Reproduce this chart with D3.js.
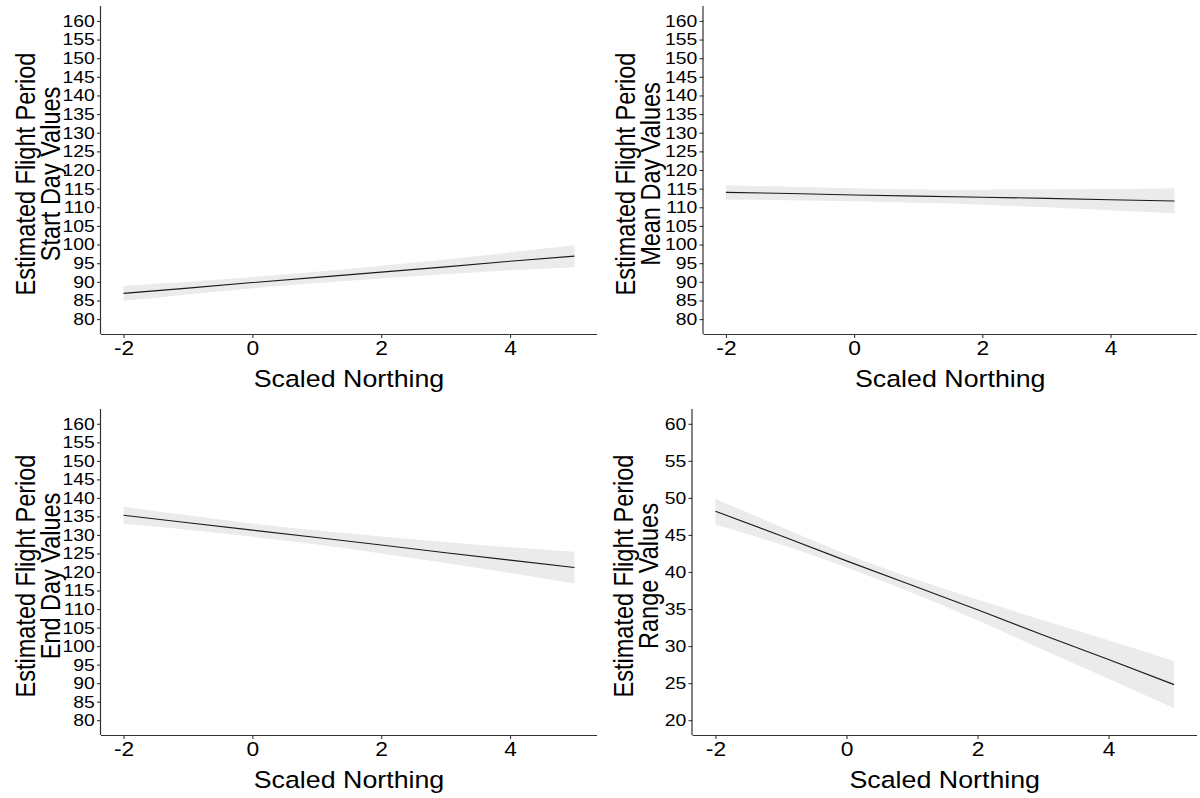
<!DOCTYPE html>
<html>
<head>
<meta charset="utf-8">
<script src="https://cdn.jsdelivr.net/npm/d3@7"></script>
<style>
  html, body { margin: 0; padding: 0; background: #fff; }
  svg { display: block; font-family: "Liberation Sans", Arial, sans-serif; }
</style>
</head>
<body>
<svg id="chart" width="1200" height="798"></svg>
<script>
// Scaled northing positions where the fitted values were evaluated
const northing = [-2, -1, 0, 1, 2, 3, 4, 5];

// Flight period start day: fitted line and confidence band
const startFit   = [86.9, 88.3, 89.8, 91.2, 92.6, 94.0, 95.5, 96.9];
const startLower = [84.9, 86.6, 88.3, 89.7, 90.9, 92.0, 93.1, 93.9];
const startUpper = [88.9, 90.0, 91.3, 92.7, 94.3, 96.0, 97.9, 99.8];

// Flight period mean day
const meanFit   = [114.0, 113.7, 113.3, 113.0, 112.7, 112.4, 112.0, 111.7];
const meanLower = [112.0, 111.9, 111.6, 111.2, 110.7, 110.0, 109.2, 108.4];
const meanUpper = [115.9, 115.5, 115.1, 114.8, 114.7, 114.8, 114.9, 115.1];

// Flight period end day
const endFit   = [135.3, 133.3, 131.3, 129.3, 127.3, 125.2, 123.2, 121.2];
const endLower = [133.0, 131.4, 129.5, 127.4, 125.0, 122.4, 119.7, 116.9];
const endUpper = [137.6, 135.3, 133.1, 131.2, 129.6, 128.1, 126.7, 125.5];

// Flight period range (days)
const rangeFit   = [48.2, 44.9, 41.5, 38.2, 34.9, 31.5, 28.2, 24.8];
const rangeLower = [46.4, 43.7, 40.6, 37.2, 33.5, 29.5, 25.6, 21.6];
const rangeUpper = [49.9, 46.1, 42.4, 39.2, 36.3, 33.5, 30.8, 28.0];

// Axis ticks and labels
const northingTicks = [-2, 0, 2, 4];
const dayTicks = d3.range(80, 161, 5);
const rangeTicks = d3.range(20, 61, 5);
const xTitle = "Scaled Northing";
const yTitleTop = "Estimated Flight Period";
const yTitles = ["Start Day Values", "Mean Day Values", "End Day Values", "Range Values"];

// text is drawn slightly wide, as in the exported figure
const SX = 1.14;

const svg = d3.select("#chart");

const panels = [
  { fit: startFit, lo: startLower, hi: startUpper, ticks: dayTicks, lim: [80, 160],
    title: yTitles[0], left: 101, right: 597, top: 6, bottom: 334, t1: 25, t2: 50 },
  { fit: meanFit, lo: meanLower, hi: meanUpper, ticks: dayTicks, lim: [80, 160],
    title: yTitles[1], left: 703.5, right: 1197, top: 6, bottom: 334, t1: 625, t2: 650 },
  { fit: endFit, lo: endLower, hi: endUpper, ticks: dayTicks, lim: [80, 160],
    title: yTitles[2], left: 101, right: 597, top: 409, bottom: 735, t1: 25, t2: 50 },
  { fit: rangeFit, lo: rangeLower, hi: rangeUpper, ticks: rangeTicks, lim: [20, 60],
    title: yTitles[3], left: 692.5, right: 1197, top: 409, bottom: 735, t1: 623, t2: 648 }
];

panels.forEach(p => {
  // 5% expansion on both scales
  const xPad = (5 - (-2)) * 0.05;
  const yPad = (p.lim[1] - p.lim[0]) * 0.05;
  const x = d3.scaleLinear().domain([-2 - xPad, 5 + xPad]).range([p.left, p.right]);
  const y = d3.scaleLinear().domain([p.lim[0] - yPad, p.lim[1] + yPad]).range([p.bottom, p.top]);

  const g = svg.append("g");
  const pts = northing.map((n, i) => ({ n, fit: p.fit[i], lo: p.lo[i], hi: p.hi[i] }));

  // confidence ribbon
  g.append("path")
    .datum(pts)
    .attr("fill", "#ebebeb")
    .attr("d", d3.area().curve(d3.curveMonotoneX)
      .x(d => x(d.n)).y0(d => y(d.lo)).y1(d => y(d.hi)));

  // fitted line
  g.append("path")
    .datum(pts)
    .attr("fill", "none")
    .attr("stroke", "#1a1a1a")
    .attr("stroke-width", 1.1)
    .attr("d", d3.line().x(d => x(d.n)).y(d => y(d.fit)));

  // x axis
  const xAxis = g.append("g")
    .attr("transform", `translate(0,${p.bottom})`)
    .call(d3.axisBottom(x).tickValues(northingTicks).tickFormat(d3.format("d"))
      .tickSizeInner(4).tickSizeOuter(0).tickPadding(3));
  xAxis.select(".domain").attr("stroke", "#333").attr("stroke-width", 1.2)
    .attr("d", `M${p.left},0.5H${p.right}`);
  xAxis.selectAll(".tick line").attr("stroke", "#333").attr("stroke-width", 1.1);
  xAxis.selectAll(".tick text").attr("fill", "#000").attr("font-size", 20)
    .attr("font-family", "Liberation Sans, Arial, sans-serif")
    .attr("transform", `scale(${SX},1)`)
    .text(d => d < 0 ? "-" + Math.abs(d) : d);

  // y axis
  const yAxis = g.append("g")
    .attr("transform", `translate(${p.left},0)`)
    .call(d3.axisLeft(y).tickValues(p.ticks).tickFormat(d3.format("d"))
      .tickSizeInner(4).tickSizeOuter(0).tickPadding(1.5));
  yAxis.select(".domain").attr("stroke", "#333").attr("stroke-width", 1.2)
    .attr("d", `M-0.5,${p.top}V${p.bottom}`);
  yAxis.selectAll(".tick line").attr("stroke", "#333").attr("stroke-width", 1.1);
  yAxis.selectAll(".tick text").attr("fill", "#000").attr("font-size", 17)
    .attr("font-family", "Liberation Sans, Arial, sans-serif")
    .attr("transform", `scale(${SX},1)`);

  // axis titles
  g.append("text")
    .attr("transform", `translate(${(p.left + p.right) / 2},${p.bottom + 53}) scale(${SX},1)`)
    .attr("text-anchor", "middle")
    .attr("font-size", 23.5)
    .attr("fill", "#000")
    .text(xTitle);

  const cy = (p.top + p.bottom) / 2 + 4;
  [[yTitleTop, p.t1], [p.title, p.t2]].forEach(([txt, tx]) => {
    g.append("text")
      .attr("transform", `translate(${tx},${cy}) scale(${SX},1) rotate(-90)`)
      .attr("text-anchor", "middle")
      .attr("dominant-baseline", "central")
      .attr("font-size", 23.5)
      .attr("fill", "#000")
      .text(txt);
  });
});
</script>
</body>
</html>
